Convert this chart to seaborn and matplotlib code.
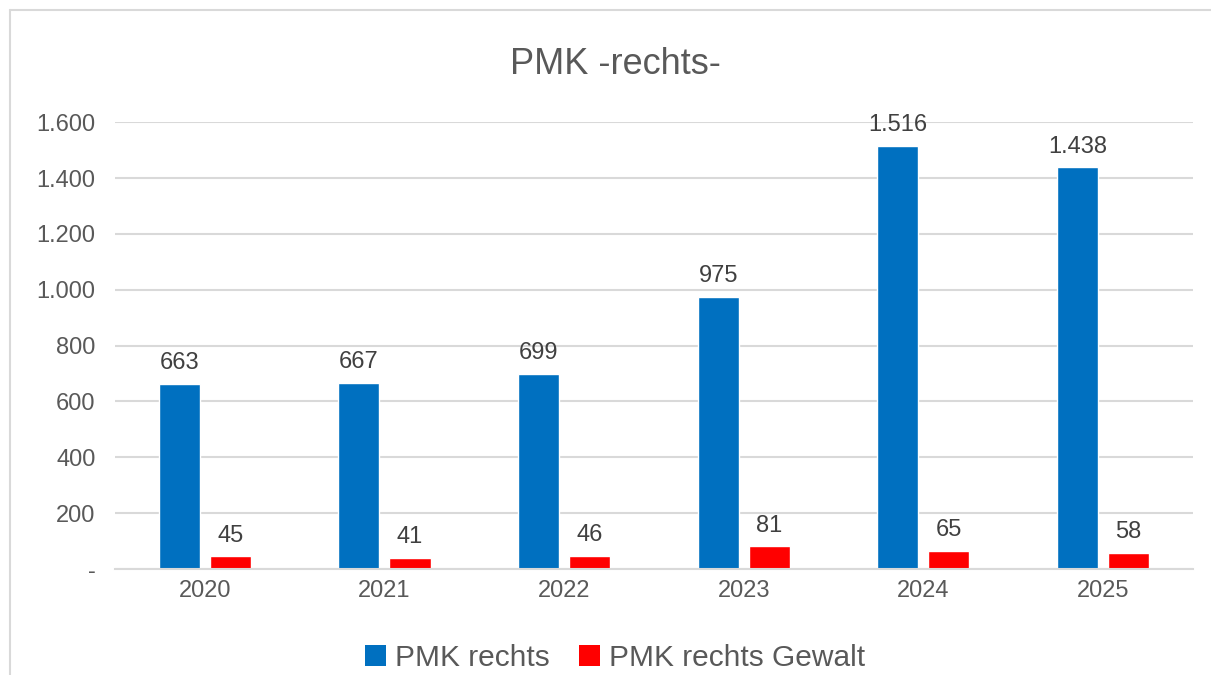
import matplotlib
matplotlib.use("Agg")
import matplotlib.pyplot as plt
from matplotlib.lines import Line2D
from matplotlib.patches import Patch
import seaborn as sns
import pandas as pd

years = ["2020", "2021", "2022", "2023", "2024", "2025"]
pmk_rechts = [663, 667, 699, 975, 1516, 1438]
pmk_gewalt = [45, 41, 46, 81, 65, 58]
series = ["PMK rechts", "PMK rechts Gewalt"]
colors = ["#0070C0", "#FF0000"]

df = pd.DataFrame({
    "Jahr": years * 2,
    "Anzahl": pmk_rechts + pmk_gewalt,
    "Reihe": [series[0]] * len(years) + [series[1]] * len(years),
})


def de_fmt(v):
    v = int(round(v))
    if v == 0:
        return "-"
    return f"{v:,}".replace(",", ".")


sns.set_theme(style="white")
plt.rcParams["font.family"] = ["Liberation Sans", "DejaVu Sans"]

fig = plt.figure(figsize=(12.11, 6.75), dpi=100)
ax = fig.add_axes([0.095, 0.157, 0.89, 0.662])

sns.barplot(data=df, x="Jahr", y="Anzahl", hue="Reihe", palette=colors,
            width=0.568, gap=0.196, ax=ax, legend=False, saturation=1)

ax.set_ylim(0, 1600)
ax.set_yticks(range(0, 1601, 200))
ax.set_yticklabels([de_fmt(v) for v in range(0, 1601, 200)])
ax.yaxis.grid(True, color="#d9d9d9", linewidth=1.5)
ax.set_axisbelow(True)
for s in ["top", "right", "left"]:
    ax.spines[s].set_visible(False)
ax.spines["bottom"].set_color("#d9d9d9")
ax.spines["bottom"].set_linewidth(1.5)
ax.tick_params(axis="both", length=0, labelsize=17, colors="#595959")
ax.tick_params(axis="y", pad=14)
ax.tick_params(axis="x", pad=8)
ax.set_xlabel("")
ax.set_ylabel("")

for cont in ax.containers:
    ax.bar_label(cont, labels=[de_fmt(b.get_height()) for b in cont],
                 padding=7, fontsize=17, color="#404040")

fig.text(0.508, 0.905, "PMK -rechts-", ha="center", va="center",
         fontsize=26, color="#595959")

handles = [Patch(facecolor=c, edgecolor="none") for c in colors]
fig.legend(handles, series, loc="center", bbox_to_anchor=(0.508, 0.025),
           ncol=2, frameon=False, fontsize=21.5, labelcolor="#595959",
           handlelength=0.7, handleheight=0.7, handletextpad=0.3,
           columnspacing=1.0)

# chart border (top and left edges visible)
fig.add_artist(Line2D([10 / 1211, 10 / 1211], [0, 1 - 10 / 675],
                      transform=fig.transFigure, color="#d9d9d9", lw=1.5))
fig.add_artist(Line2D([10 / 1211, 1], [1 - 10 / 675, 1 - 10 / 675],
                      transform=fig.transFigure, color="#d9d9d9", lw=1.5))

fig.savefig("out.png", dpi=100)
